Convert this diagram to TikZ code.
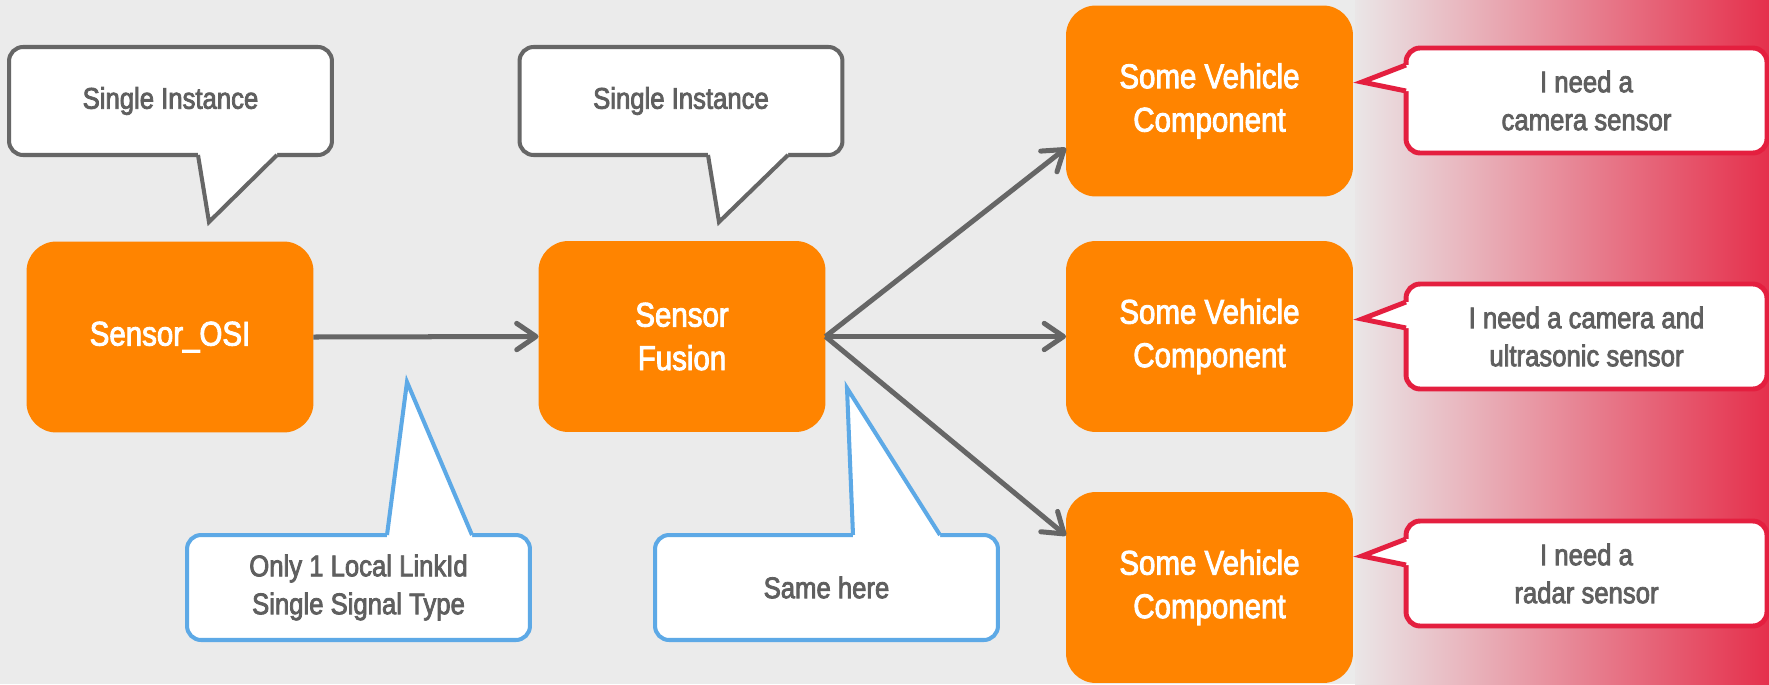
\documentclass[tikz,border=0pt]{standalone}
\usepackage{fontspec}
\setmainfont{Liberation Sans}[FakeStretch=0.86,FakeBold=2.6]
\usetikzlibrary{arrows.meta,calc}

\definecolor{bg}{HTML}{EBEBEB}
\definecolor{boxorange}{HTML}{FF8400}
\definecolor{linegray}{HTML}{666666}
\definecolor{txtgray}{HTML}{5F5F5F}
\definecolor{noteblue}{HTML}{5DA9E6}
\definecolor{notered}{HTML}{E41F3F}
\definecolor{fadered}{HTML}{E5304C}
\definecolor{fadegray}{HTML}{EAE6E7}

\begin{document}
\begin{tikzpicture}[x=0.02cm,y=-0.02cm,
  block/.style={fill=boxorange, rounded corners=17pt, minimum width=5.74cm,
    minimum height=3.82cm, inner sep=0, outer sep=0, text=white, align=center,
    font=\fontsize{19.5}{24.7}\selectfont},
  flow/.style={draw=linegray, line width=2.85pt,
    -{Straight Barb[length=11pt,width=15pt,round]}},
  note/.style={fill=white, rounded corners=8pt, inner sep=0, outer sep=0,
    line width=2.3pt, text=txtgray, align=center,
    font=\fontsize{17}{21.6}\selectfont},
  graynote/.style={note, draw=linegray, minimum width=6.46cm, minimum height=2.16cm},
  bluenote/.style={note, draw=noteblue, minimum width=6.86cm, minimum height=2.1cm},
  rednote/.style={note, draw=notered, line width=2.8pt, minimum width=7.22cm, minimum height=2.1cm},
  tail/.style={line width=2.3pt, line join=miter},
]

% background and the red fade on the right
\fill[bg] (0,0) rectangle (1769,684);
\shade[left color=fadegray, right color=fadered] (1355,0) rectangle (1769,684);
\useasboundingbox (0,0) rectangle (1769,684);

% processing blocks
\node[block] (osi)    at (170,337)    {Sensor\_OSI};
\node[block] (fusion) at (682,336.5)  {Sensor\\Fusion};
\node[block] (vc1)    at (1209.5,101) {Some Vehicle\\Component};
\node[block] (vc2)    at (1209.5,336.5) {Some Vehicle\\Component};
\node[block] (vc3)    at (1209.5,587.5) {Some Vehicle\\Component};

% data flow
\draw[flow] (osi.east) -- (fusion.west);
\draw[flow] (fusion.east) -- ($(vc1.west)+(0,47)$);
\draw[flow] (fusion.east) -- (vc2.west);
\draw[flow] (fusion.east) -- ($(vc3.west)+(0,-52)$);

% callouts above the blocks
\node[graynote] (n1) at (170.5,101) {Single Instance};
\node[graynote] (n2) at (681,101)   {Single Instance};
\fill[white] (198,150) -- (198,155) -- (209,222) -- (277,155) -- (277,150) -- cycle;
\draw[tail, linegray] (198,155) -- (209,222) -- (277,155);
\fill[white] (708,150) -- (708,155) -- (719,222) -- (788,155) -- (788,150) -- cycle;
\draw[tail, linegray] (708,155) -- (719,222) -- (788,155);

% callouts below the links
\node[bluenote] (n3) at (358.5,587.5) {Only 1 Local LinkId\\Single Signal Type};
\node[bluenote] (n4) at (826.5,587.5) {Same here};
\fill[white] (387,540) -- (387,535) -- (407,382) -- (472,535) -- (472,540) -- cycle;
\draw[tail, noteblue] (387,535) -- (407,382) -- (472,535);
\fill[white] (853,540) -- (853,535) -- (847,388) -- (940,535) -- (940,540) -- cycle;
\draw[tail, noteblue] (853,535) -- (847,388) -- (940,535);

% requests of the vehicle components
\node[rednote] (r1) at (1586.5,100.5) {I need a\\camera sensor};
\node[rednote] (r2) at (1586.5,336.5) {I need a camera and\\ultrasonic sensor};
\node[rednote] (r3) at (1586.5,573.5) {I need a\\radar sensor};
\foreach \t in {48,285,522}{
  \fill[white] (1412,\t+17) -- (1406,\t+17) -- (1362,\t+34) -- (1406,\t+43) -- (1412,\t+43) -- cycle;
  \draw[tail, notered, line width=2.8pt] (1406,\t+17) -- (1362,\t+34) -- (1406,\t+43);
}
\end{tikzpicture}
\end{document}
